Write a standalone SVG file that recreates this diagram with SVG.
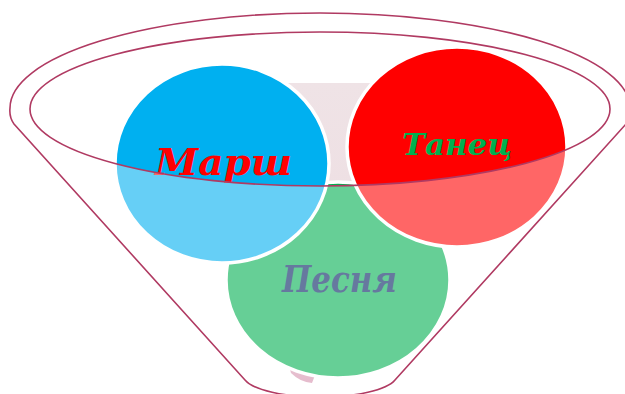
<svg xmlns="http://www.w3.org/2000/svg" width="625" height="394" viewBox="0 0 625 394">
  <defs>
    <linearGradient id="pinkGrad" gradientUnits="userSpaceOnUse" x1="0" y1="83" x2="0" y2="384">
      <stop offset="0" stop-color="#EFE3E6"/>
      <stop offset="0.45" stop-color="#EEDFE3"/>
      <stop offset="1" stop-color="#D48EAB"/>
    </linearGradient>
  </defs>
  <style>
    .circle { stroke: #FFFFFF; stroke-width: 3.5; }
    .label { font-family: "DejaVu Serif", "Liberation Serif", serif; font-weight: bold; font-style: italic; text-anchor: middle; }
    .rim { fill: none; stroke: #B03A62; stroke-width: 1.6; }
  </style>
  <rect width="625" height="394" fill="#FFFFFF"/>

  <g id="background-shape">
    <path d="M 222,83 L 418,83 Q 428,83 425,92 L 312,383 Q 300,382 291,373 L 216,92 Q 213,83 222,83 Z" fill="url(#pinkGrad)"/>
  </g>

  <g id="node-pesnya">
    <ellipse class="circle" cx="338" cy="280" rx="112" ry="98" fill="#00B050"/>
    <text class="label" x="339.5" y="292" font-size="37" fill="#002060" textLength="115" lengthAdjust="spacingAndGlyphs">Песня</text>
  </g>

  <g id="node-marsh">
    <ellipse class="circle" cx="222" cy="163.5" rx="107" ry="99.5" fill="#00B0F0"/>
    <text class="label" x="223.5" y="175" font-size="37" fill="#FF0000" textLength="137" lengthAdjust="spacingAndGlyphs">Марш</text>
  </g>

  <g id="node-tanets">
    <ellipse class="circle" cx="457" cy="147" rx="110" ry="100" fill="#FF0000"/>
    <text class="label" x="457" y="155" font-size="30" fill="#00B050" textLength="110" lengthAdjust="spacingAndGlyphs">Танец</text>
  </g>

  <g id="funnel">
    <path fill="#FFFFFF" fill-opacity="0.4" fill-rule="evenodd"
      d="M 245,380 L 14,124 Q 9,117 10,108 A 310 95 0 0 1 630,108 Q 631,117 626,124 L 395,380 A 77 22 0 0 1 245,380 Z
         M 30,109 A 290 77 0 1 0 610,109 A 290 77 0 1 0 30,109 Z"/>
    <path class="rim" d="M 245,380 L 14,124 Q 9,117 10,108 A 310 95 0 0 1 630,108 Q 631,117 626,124 L 395,380 A 77 22 0 0 1 245,380 Z"/>
    <ellipse class="rim" cx="320" cy="109" rx="290" ry="77"/>
  </g>
</svg>
